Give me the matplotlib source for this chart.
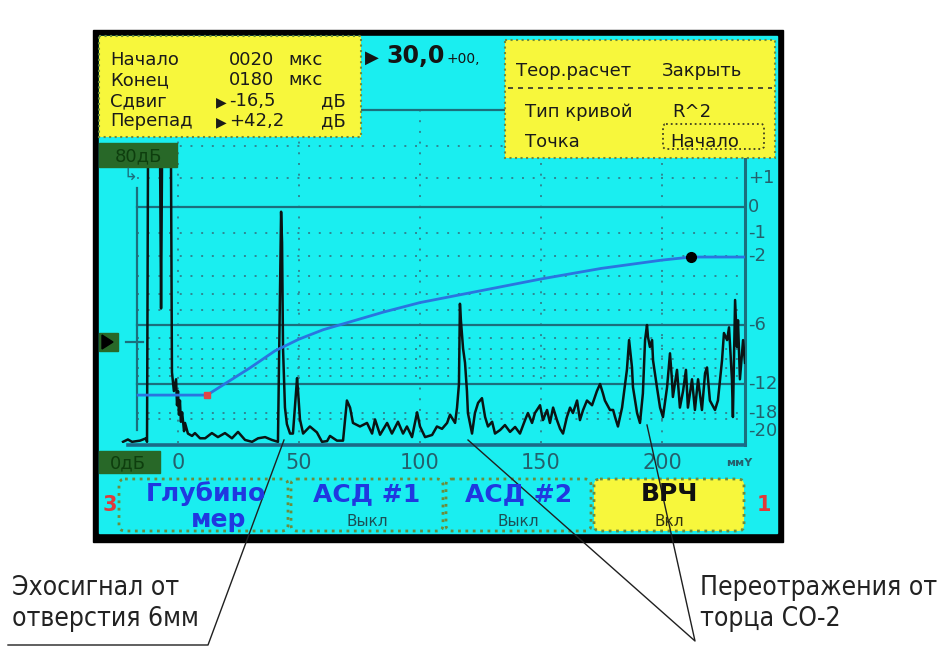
import numpy as np
import matplotlib.pyplot as plt
from matplotlib import font_manager
from matplotlib.patches import Rectangle, FancyBboxPatch, Polygon

# A-скан: глубина, мм / амплитуда, % от уровня 0 дБ
echo_depth = [-22.7, -20.7, -19.0, -15.7, -13.2, -12.8, -12.4, -7.4, -7.0, -6.6, -2.9, -2.5,
              -1.7, -0.8, -0.4, 0.0, 0.4, 0.8, 1.2, 1.7, 2.5, 2.9, 4.1, 5.8, 7.0, 9.1, 11.2,
              14.0, 16.5, 19.4, 22.3, 24.8, 27.7, 30.6, 33.1, 36.0, 38.8, 41.3, 42.1, 42.6,
              43.0, 43.4, 44.2, 45.0, 46.3, 47.5, 49.2, 49.6, 50.4, 51.7, 54.5, 57.4, 59.5,
              61.6, 62.8, 65.7, 68.2, 69.8, 71.1, 72.3, 75.2, 78.1, 80.2, 81.4, 83.5, 86.4,
              88.4, 90.9, 93.0, 94.6, 96.7, 98.8, 100.0, 102.1, 105.0, 107.0, 109.1, 111.2,
              112.4, 114.5, 115.3, 116.1, 116.5, 116.9, 117.8, 118.6, 119.4, 119.8, 121.5,
              122.7, 124.0, 125.6, 126.9, 128.1, 129.8, 131.0, 133.1, 135.1, 137.2, 139.3,
              141.3, 143.4, 144.6, 146.3, 147.5, 149.6, 150.8, 152.5, 153.7, 155.0, 156.6,
              157.9, 159.1, 160.7, 162.0, 163.2, 164.9, 166.1, 167.4, 169.0, 171.1, 173.1,
              174.4, 175.6, 176.4, 178.5, 179.8, 180.6, 181.8, 183.5, 185.5, 186.4, 187.6,
              188.0, 189.7, 190.9, 192.1, 193.0, 193.8, 194.2, 195.0, 195.9, 196.3, 197.9,
              199.2, 200.4, 202.1, 203.3, 204.1, 204.5, 206.2, 207.4, 208.7, 209.9, 210.7,
              212.4, 213.6, 214.9, 216.5, 217.8, 218.6, 219.8, 221.9, 223.1, 224.8, 225.6,
              226.9, 227.7, 228.9, 229.3, 230.2, 231.0, 231.4, 232.2, 233.5, 234.3]
echo_amp = [0.5, 1.5, 0.5, 1.0, 2.0, 0.5, 120, 120, 57, 120, 120, 30,
            22, 27, 16, 22, 12, 18, 9, 13, 5, 8.5, 4, 3, 4.2, 2, 2,
            4.2, 2.5, 4.2, 2, 4.7, 1.3, 0.5, 2, 2.5, 1.3, 0.5, 60, 98,
            85, 40, 15, 8, 4, 4, 27.5, 22, 10, 4, 7, 4.5, 0.5,
            0.8, 3, 1, 1, 18, 15, 8.5, 7, 8.5, 4, 10, 3.5, 8.5,
            4, 9, 4, 7, 2.5, 13, 7, 2.5, 3.4, 7, 6, 8.5,
            12, 8.5, 15, 25, 59, 52, 40, 34, 22, 12.7, 4,
            12.7, 17, 19, 11, 7, 9, 4, 5.5, 7.6, 4.7, 6.8,
            4, 9.7, 12.7, 8.5, 12.7, 16, 9.7, 14, 8.5, 15, 9.7,
            6, 4, 11, 15, 12.7, 18, 9.7, 14, 18, 16, 22,
            25, 21, 18, 14, 14, 11, 7, 15, 31, 43.6, 32,
            23.7, 12.7, 8.5, 21, 43.6, 50, 45, 40.7, 43.6, 35, 23.7,
            15, 11, 23.7, 38, 27, 19.5, 31, 15, 22, 31, 15,
            27, 14, 27, 14, 29.6, 32, 18, 14, 18, 35, 46.6,
            43.6, 49, 27, 11, 60.6, 40.7, 52, 27, 43.6, 34]

# кривая ВРЧ (теоретическая R^2)
tcg_depth = [-16.5, 12, 20, 30, 40, 50, 60, 70, 85, 100, 125, 150, 175, 200, 212, 234.3]
tcg_amp = [20.3, 20.3, 25.5, 32, 39, 44, 48, 51, 55.5, 59.5, 64.5, 69.5, 74, 77.5, 78.8, 78.8]
tcg_start = (12, 20.3)
tcg_point = (212, 78.8)

x_ticks = [0, 50, 100, 150, 200]
db_marks = [1, 0, -1, -2, -6, -12, -18, -20]
db_labels = ['+1', '0', '-1', '-2', '-6', '-12', '-18', '-20']
db_solid = [3, 0, -6, -12]
db_dotted = [2, 1, -1, -2, -3, -4, -5, -7, -8, -9, -10, -11, -18, -20]

info_rows = [('Начало', '', '0020', 'мкс'), ('Конец', '', '0180', 'мкс'),
             ('Сдвиг', '▶', '-16,5', 'дБ'), ('Перепад', '▶', '+42,2', 'дБ')]
buttons = [('Глубино', 'мер'), ('АСД #1', 'Выкл'), ('АСД #2', 'Выкл'), ('ВРЧ', 'Вкл')]


def has_font(name):
    try:
        font_manager.findfont(font_manager.FontProperties(family=name), fallback_to_default=False)
        return True
    except ValueError:
        return False


# узкий шрифт для подписей-выносок
if has_font('Liberation Sans Narrow'):
    NARROW = dict(family='Liberation Sans Narrow')
else:
    NARROW = dict(family='DejaVu Sans', stretch='condensed')
SCREEN = 'DejaVu Sans'

CYAN = '#1aeef0'
YEL = '#f7f73c'
GRID = '#2f8793'
SOLID = '#1b6f7d'
LBL = '#24606c'
BORDER = '#6c8c3c'
BLUE = '#2a74e0'
BTN = '#2038e0'
RED = '#e03a3a'
DKGREEN = '#286828'

W, H = 951, 647
X0_PX, PX_PER_MM = 178, 2.42
Y0_PX, PX_PER_PCT = 443, 2.36
AX_L, AX_R, AX_T = 100, 745, 89

fig = plt.figure(figsize=(W / 100, H / 100), dpi=100)
fig.patch.set_facecolor('white')

# фон: рамка прибора
bg = fig.add_axes([0, 0, 1, 1], zorder=0)
bg.set_xlim(0, W)
bg.set_ylim(H, 0)
bg.axis('off')
bg.add_patch(Rectangle((93, 30), 690, 512, color='black'))
bg.add_patch(Rectangle((99, 36), 678, 497, color=CYAN))

# область A-скана
ax = fig.add_axes([AX_L / W, (H - Y0_PX) / H, (AX_R - AX_L) / W, (Y0_PX - AX_T) / H], zorder=1)
ax.set_xlim((AX_L - X0_PX) / PX_PER_MM, (AX_R - X0_PX) / PX_PER_MM)
ax.set_ylim(0, (Y0_PX - AX_T) / PX_PER_PCT)
ax.axis('off')
x_left, x_right = -16.9, (AX_R - X0_PX) / PX_PER_MM


def db2pct(db):
    return 100 * 10 ** (db / 20)


for db in db_dotted:
    ax.plot([x_left, x_right], [db2pct(db)] * 2, color=GRID, lw=1.4, ls=(0, (1, 4.5)), zorder=1)
for xv in x_ticks:
    ax.plot([xv, xv], [0, db2pct(3)], color=GRID, lw=1.4, ls=(0, (1, 4.5)), zorder=1)
for db in db_solid:
    ax.plot([x_left, x_right], [db2pct(db)] * 2, color=SOLID, lw=1.6, zorder=2)

ax.plot([x_left, x_left], [5.5, 108], color=SOLID, lw=1.6, zorder=2)
ax.plot([x_right, x_right], [-1, (Y0_PX - 158) / PX_PER_PCT], color=SOLID, lw=2.2, clip_on=False, zorder=2)
ax.plot([-20.7, x_right], [-1, -1], color='#1a6a88', lw=2.6, clip_on=False, zorder=2)

ax.plot(echo_depth, echo_amp, color='#0a1414', lw=1.8, zorder=4)
ax.plot(tcg_depth, tcg_amp, color=BLUE, lw=2.0, zorder=5)
ax.plot(*tcg_start, marker='s', ms=4, color='#e04848', zorder=6)
ax.plot(*tcg_point, marker='o', ms=7, color='black', zorder=6)

for lab, xv in zip(['0', '50', '100', '150', '200'], x_ticks):
    ax.annotate(lab, (xv, 0), xytext=(0, -20), textcoords='offset pixels', ha='center',
                va='center', fontsize=15, family=SCREEN, color=LBL, annotation_clip=False)
ax.annotate('ммY', (x_right, 0), xytext=(-6, -20), textcoords='offset pixels', ha='center',
            va='center', fontsize=8, family=SCREEN, color=LBL, weight='bold', annotation_clip=False)
for db, lab in zip(db_marks, db_labels):
    dy = -12 if db == -20 else 0
    ax.annotate(lab, (x_right, db2pct(db)), xytext=(3, dy), textcoords='offset pixels',
                ha='left', va='center', fontsize=13, family=SCREEN, color=LBL, annotation_clip=False)

# верхний слой: панели, кнопки, подписи
ov = fig.add_axes([0, 0, 1, 1], zorder=3)
ov.set_xlim(0, W)
ov.set_ylim(H, 0)
ov.axis('off')
ov.patch.set_alpha(0)

# метки 80дБ / 0дБ и маркеры слева
ov.add_patch(Rectangle((99, 143), 78, 24, color=DKGREEN))
ov.text(138, 156, '80дБ', ha='center', va='center', fontsize=13, family=SCREEN, color='#0e3e0e')
ov.add_patch(Rectangle((99, 451), 61, 22, color=DKGREEN))
ov.text(128, 463, '0дБ', ha='center', va='center', fontsize=13, family=SCREEN, color='#0e3e0e')
ov.add_patch(Rectangle((99, 333), 19, 18, color=DKGREEN))
ov.add_patch(Polygon([(102, 335), (102, 349), (113, 342)], color='black'))
ov.plot([126, 143], [342, 342], color=SOLID, lw=1.6)
ov.text(130, 175, '↳', ha='center', va='center', fontsize=12, family=SCREEN, color=SOLID)

# левая жёлтая панель
ov.add_patch(Rectangle((99, 36), 262, 101, facecolor=YEL, edgecolor=BORDER, lw=1.5, ls=':'))
baselines = [65, 85, 106, 126]
for (name, mark, val, unit), yb in zip(info_rows, baselines):
    ov.text(110, yb, name, fontsize=13, family=SCREEN, color='#1a1a1a', va='baseline')
    if mark:
        ov.text(216, yb, mark, fontsize=10, family=SCREEN, color='#1a1a1a', va='baseline')
    ov.text(229, yb, val, fontsize=13, family=SCREEN, color='#1a1a1a', va='baseline')
    ov.text(288 if unit == 'мкс' else 321, yb, unit, fontsize=13, family=SCREEN,
            color='#1a1a1a', va='baseline')

ov.text(365, 63, '▶', fontsize=13, family=SCREEN, color='#141414', va='baseline')
ov.text(386, 63, '30,0', fontsize=17, family=SCREEN, weight='bold', color='#141414', va='baseline')
ov.text(447, 63, '+00,', fontsize=10, family=SCREEN, color='#141414', va='baseline')

# правая жёлтая панель
ov.add_patch(Rectangle((505, 40), 270, 118, facecolor=YEL, edgecolor=BORDER, lw=1.5, ls=':'))
ov.text(516, 76, 'Теор.расчет', fontsize=13, family=SCREEN, color='#1a1a1a', va='baseline')
ov.text(662, 76, 'Закрыть', fontsize=13, family=SCREEN, color='#1a1a1a', va='baseline')
ov.plot([508, 772], [88, 88], color='#303030', lw=1.2, ls=(0, (3, 3)))
ov.text(525, 117, 'Тип кривой', fontsize=13, family=SCREEN, color='#1a1a1a', va='baseline')
ov.text(672, 117, 'R^2', fontsize=13, family=SCREEN, color='#1a1a1a', va='baseline')
ov.text(525, 147, 'Точка', fontsize=13, family=SCREEN, color='#1a1a1a', va='baseline')
ov.add_patch(FancyBboxPatch((663, 124), 101, 25, boxstyle='round,pad=0,rounding_size=3',
                            facecolor='none', edgecolor='#404020', lw=1.3, ls=':'))
ov.text(670, 147, 'Начало', fontsize=13, family=SCREEN, color='#1a1a1a', va='baseline')

# нижний ряд кнопок
btn_x = [(119, 288), (291, 443), (446, 591), (594, 744)]
for (top, bottom), (x1, x2) in zip(buttons, btn_x):
    yellow = top == 'ВРЧ'
    ov.add_patch(FancyBboxPatch((x1, 479), x2 - x1, 52, boxstyle='round,pad=0,rounding_size=6',
                                facecolor=YEL if yellow else CYAN, edgecolor=BORDER, lw=2, ls=':'))
    cx = (x1 + x2) / 2
    if top == 'Глубино':
        ov.text(cx + 2, 494, top, ha='center', va='center', fontsize=18, family=SCREEN,
                weight='bold', color=BTN)
        ov.text(cx + 15, 520, bottom, ha='center', va='center', fontsize=18, family=SCREEN,
                weight='bold', color=BTN)
    else:
        ov.text(cx, 494, top, ha='center', va='center', fontsize=18, family=SCREEN,
                weight='bold', color='#101010' if yellow else BTN)
        ov.text(cx, 521, bottom, ha='center', va='center', fontsize=11, family=SCREEN,
                color='#303010' if yellow else '#1c4f55')
ov.text(110, 505, '3', ha='center', va='center', fontsize=15, family=SCREEN, weight='bold', color=RED)
ov.text(764, 505, '1', ha='center', va='center', fontsize=15, family=SCREEN, weight='bold', color=RED)

# выноски
ov.text(12, 588, 'Эхосигнал от', ha='left', va='center', fontsize=19, color='#222222', **NARROW)
ov.text(12, 619, 'отверстия 6мм', ha='left', va='center', fontsize=19, color='#222222', **NARROW)
ov.plot([8, 208, 284], [645, 645, 440], color='#202020', lw=1)
ov.text(700, 588, 'Переотражения от', ha='left', va='center', fontsize=19, color='#222222', **NARROW)
ov.text(700, 619, 'торца СО-2', ha='left', va='center', fontsize=19, color='#222222', **NARROW)
ov.plot([468, 695, 647], [440, 641, 425], color='#202020', lw=1)

fig.savefig('out.png', dpi=100, facecolor='white')
